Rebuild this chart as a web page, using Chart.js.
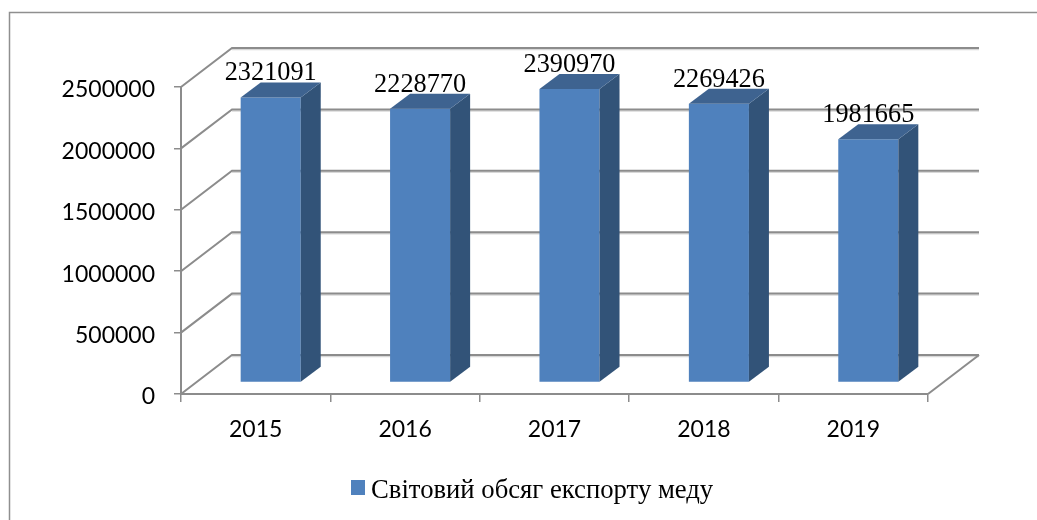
<!DOCTYPE html>
<html><head><meta charset="utf-8">
<style>html,body{margin:0;padding:0;background:#fff}#w{width:1037px;height:520px}</style>
<script src="https://cdn.jsdelivr.net/npm/chart.js@4"></script>
</head><body><div id="w"><canvas id="c" width="1037" height="520"></canvas></div>
<script>
const categories = ['2015','2016','2017','2018','2019'];
const seriesName = 'Світовий обсяг експорту меду';
const exportValues = [2321091,2228770,2390970,2269426,1981665];
const yTicks = [0,500000,1000000,1500000,2000000,2500000];
const wall = {dx:51,dy:39}, barShift = {dx:15,dy:11.5}, barDepth = {dx:20,dy:15};
const gridCol = '#8c8c8c';

function line(ctx,pts,col,w){ctx.save();ctx.strokeStyle=col;ctx.lineWidth=w;ctx.beginPath();
  pts.forEach((p,i)=>i?ctx.lineTo(p[0],p[1]):ctx.moveTo(p[0],p[1]));ctx.stroke();ctx.restore();}
function poly(ctx,pts,col){ctx.fillStyle=col;ctx.beginPath();
  pts.forEach((p,i)=>i?ctx.lineTo(p[0],p[1]):ctx.moveTo(p[0],p[1]));ctx.closePath();ctx.fill();}

const frame = {id:'frame',beforeDraw(ch){
  line(ch.ctx,[[9.5,540],[9.5,12.5],[1050,12.5]],'#8f8f8f',1.5);
}};
const walls = {id:'walls',beforeDatasetsDraw(ch){
  const c=ch.ctx,y=ch.scales.y,a=ch.chartArea;
  yTicks.forEach(v=>{
    const py=y.getPixelForValue(v);
    line(c,[[a.left+wall.dx,py-wall.dy+1.5],[a.right+wall.dx,py-wall.dy+1.5]],'#d8d8d8',1.5);
    line(c,[[a.left,py],[a.left+wall.dx,py-wall.dy],[a.right+wall.dx,py-wall.dy]],gridCol,2);
  });
  const p0=y.getPixelForValue(0);
  line(c,[[a.right,p0],[a.right+wall.dx,p0-wall.dy]],gridCol,2);
  c.save();c.translate(barShift.dx,-barShift.dy);
}};
const bars3d = {id:'bars3d',afterDatasetsDraw(ch){
  const c=ch.ctx,m=ch.getDatasetMeta(0);
  m.data.forEach(b=>{
    const l=b.x-b.width/2,r=b.x+b.width/2,t=b.y,bt=b.base,d=barDepth;
    poly(c,[[r,t],[r+d.dx,t-d.dy],[r+d.dx,bt-d.dy],[r,bt]],'#325378');
    poly(c,[[l,t],[l+d.dx,t-d.dy],[r+d.dx,t-d.dy],[r,t]],'#3e6390');
  });
  c.restore();
  c.save();c.font='26.3px "Liberation Serif"';c.fillStyle='#000';c.textAlign='center';c.textBaseline='middle';
  m.data.forEach((b,i)=>{
    c.fillText(String(exportValues[i]),b.x+barShift.dx,b.y-barShift.dy-24);
  });
  c.restore();
}};
const legendBox = {id:'legendBox',afterDraw(ch){
  const c=ch.ctx;c.save();
  c.fillStyle='#4f81bd';c.fillRect(351,480,14,15);
  c.font='26.7px "Liberation Serif"';c.fillStyle='#000';c.textAlign='left';c.textBaseline='alphabetic';
  c.fillText(seriesName,371,498);
  c.restore();
}};

new Chart(document.getElementById('c'),{
  type:'bar',
  data:{labels:categories,datasets:[{label:seriesName,data:exportValues,backgroundColor:'#4f81bd',
    borderWidth:0,clip:false,categoryPercentage:1,barPercentage:0.402}]},
  options:{responsive:false,animation:false,
    layout:{padding:{top:87,left:0,right:109,bottom:66}},
    plugins:{tooltip:{enabled:false},legend:{display:false}},
    scales:{
      x:{afterFit(s){s.height=60;},
        grid:{display:true,drawOnChartArea:false,drawTicks:true,tickLength:8,color:gridCol,lineWidth:1.5,offset:true},
        border:{display:true,color:gridCol,width:2},
        ticks:{font:{family:'Lato',size:23},color:'#000',padding:14,maxRotation:0}},
      y:{min:0,max:2500000,afterFit(s){s.width=181;},
        afterBuildTicks(s){s.ticks=yTicks.map(v=>({value:v}));},
        grid:{display:true,drawOnChartArea:false,drawTicks:true,tickLength:7,color:gridCol,lineWidth:1.5},
        border:{display:true,color:gridCol,width:2},
        ticks:{font:{family:'Lato',size:23},color:'#000',padding:19,labelOffset:3,callback:v=>String(v)}}
    }
  },
  plugins:[frame,walls,bars3d,legendBox]
});
</script></body></html>
